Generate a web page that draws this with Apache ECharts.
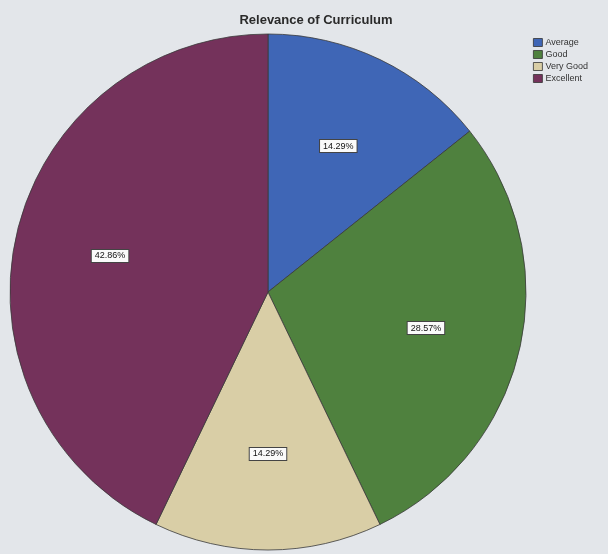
<!DOCTYPE html>
<html>
<head>
<meta charset="utf-8">
<script src="https://cdn.jsdelivr.net/npm/echarts@6/dist/echarts.min.js"></script>
<style>
html,body{margin:0;padding:0;background:#e3e6ea;}
#c{width:608px;height:554px;}
</style>
</head>
<body>
<div id="c"></div>
<script>
const categories = ['Average', 'Good', 'Very Good', 'Excellent'];
const values = [14.29, 28.57, 14.29, 42.86];
const colors = ['#3f66b6', '#4f813e', '#d9cea6', '#74325b'];
const titleText = 'Relevance of Curriculum';

const data = categories.map((c, i) => ({ name: c, value: values[i], itemStyle: { color: colors[i] } }));
const chart = echarts.init(document.getElementById('c'));
chart.setOption({
  backgroundColor: '#e3e6ea',
  title: {
    text: titleText, left: 311, top: 9, textAlign: 'center',
    textStyle: { fontFamily: 'Liberation Sans', fontWeight: 'bold', fontSize: 13, color: '#2a2a2a' }
  },
  legend: {
    orient: 'vertical', left: 528, top: 33, itemWidth: 9, itemHeight: 8, itemGap: 3,
    icon: 'rect',
    itemStyle: { borderColor: '#333', borderWidth: 0.8 },
    textStyle: { fontFamily: 'Liberation Sans', fontSize: 9, color: '#333', padding: [0, 0, 0, -2] },
    data: categories
  },
  series: [
    {
      type: 'pie', center: [268, 292], radius: [0, 258], startAngle: 90, clockwise: true,
      label: { show: false }, labelLine: { show: false },
      itemStyle: { borderColor: '#3a3a3a', borderWidth: 0.8 },
      emphasis: { disabled: true },
      animation: false,
      data: data
    },
    {
      type: 'pie', center: [268, 292], radius: [0, 318], startAngle: 90, clockwise: true,
      silent: true, legendHoverLink: false,
      itemStyle: { color: 'rgba(0,0,0,0)' },
      labelLine: { show: false },
      label: {
        show: true, position: 'inside',
        formatter: p => values[p.dataIndex].toFixed(2) + '%',
        fontFamily: 'Liberation Sans', fontSize: 9, color: '#111',
        backgroundColor: '#fafafa', borderColor: '#444', borderWidth: 1,
        padding: [2, 3, 1, 3]
      },
      emphasis: { disabled: true },
      animation: false,
      data: categories.map((c, i) => ({ name: c + ' ', value: values[i] }))
    }
  ]
});
</script>
</body>
</html>
